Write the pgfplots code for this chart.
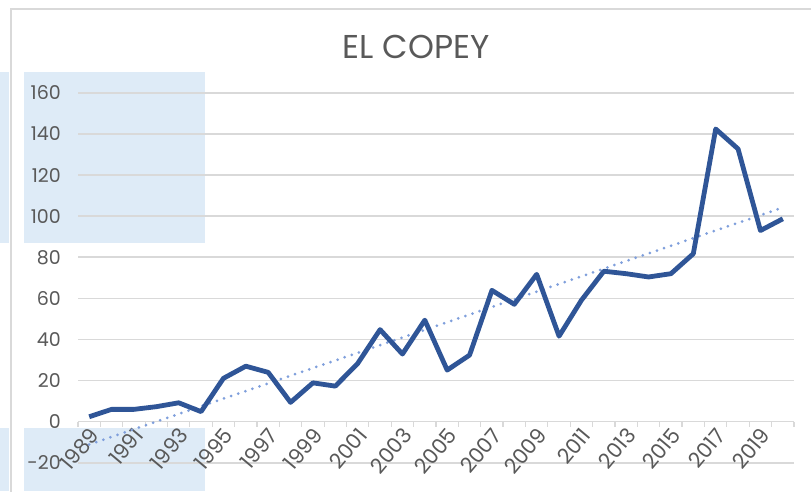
\documentclass[border=0pt]{standalone}
\usepackage{pgfplots}
\usepackage{pgfplotstable}
\pgfplotsset{compat=1.18}
\usepackage{fontspec}
\setmainfont{Poppins}
\definecolor{txt}{HTML}{595959}
\definecolor{gridc}{HTML}{D9D9D9}
\definecolor{lineb}{HTML}{2F5597}
\definecolor{trendb}{HTML}{7F9FDC}
\definecolor{selb}{HTML}{DEEBF7}
\pgfplotstableread{
x y
1989 2.4
1990 6.0
1991 6.0
1992 7.3
1993 9.2
1994 4.9
1995 21.1
1996 27.0
1997 24.0
1998 9.4
1999 18.9
2000 17.3
2001 28.3
2002 44.8
2003 32.9
2004 49.4
2005 25.1
2006 32.4
2007 63.9
2008 57.1
2009 71.7
2010 41.6
2011 59.1
2012 73.2
2013 72.0
2014 70.4
2015 72.0
2016 81.7
2017 142.4
2018 132.7
2019 93.0
2020 98.7
}\datatable
\begin{document}
\begin{tikzpicture}[x=1pt,y=1pt]
\useasboundingbox (0,0) rectangle (811,491);
\fill[white] (0,0) rectangle (811,491);
% selection highlights
\fill[selb] (0,248) rectangle (9,419);
\fill[selb] (24,248) rectangle (205,419);
\fill[selb] (0,0) rectangle (9,63);
\fill[selb] (24,0) rectangle (205,63);
% chart frame
\draw[gridc, line width=1.5pt] (11,-5) -- (11,482) -- (820,482);
\node[text=txt, font=\fontsize{33}{35}\selectfont] at (416,444) {EL COPEY};
\begin{axis}[
  at={(78pt,28.2pt)}, anchor=south west,
  scale only axis, width=716pt, height=370pt,
  xmin=1988.5, xmax=2020.5,
  ymin=-20, ymax=160,
  axis x line=middle, axis y line=left,
  axis line style={-},
  x axis line style={gridc, line width=1.5pt},
  y axis line style={draw=none},
  ytick={-20,0,...,160},
  ymajorgrids,
  major grid style={gridc, line width=1.5pt},
  ytick style={draw=none},
  xtick={1989,1991,...,2019},
  minor xtick={1988.5,1989.5,...,2020.5},
  major tick length=0pt,
  minor tick length=5pt,
  tick align=outside,
  minor x tick style={gridc, line width=1.2pt},
  /pgf/number format/assume math mode=true,
  xticklabel style={/pgf/number format/1000 sep={}, rotate=50, anchor=north east, inner sep=1pt, xshift=-3pt, yshift=-1pt, text=txt, font=\fontsize{21}{22}\selectfont},
  yticklabel style={/pgf/number format/1000 sep={}, anchor=east, inner sep=0pt, xshift=-17pt, text=txt, font=\fontsize{19}{20}\selectfont},
  clip=false,
]
\addplot[trendb, line width=3pt, line cap=round, dash pattern=on 0pt off 7.5pt] table[x=x, y={create col/linear regression={y=y}}] {\datatable};
\addplot[lineb, line width=4.8pt, line join=round, mark=none] table[x=x, y=y] {\datatable};
\end{axis}
\end{tikzpicture}
\end{document}
